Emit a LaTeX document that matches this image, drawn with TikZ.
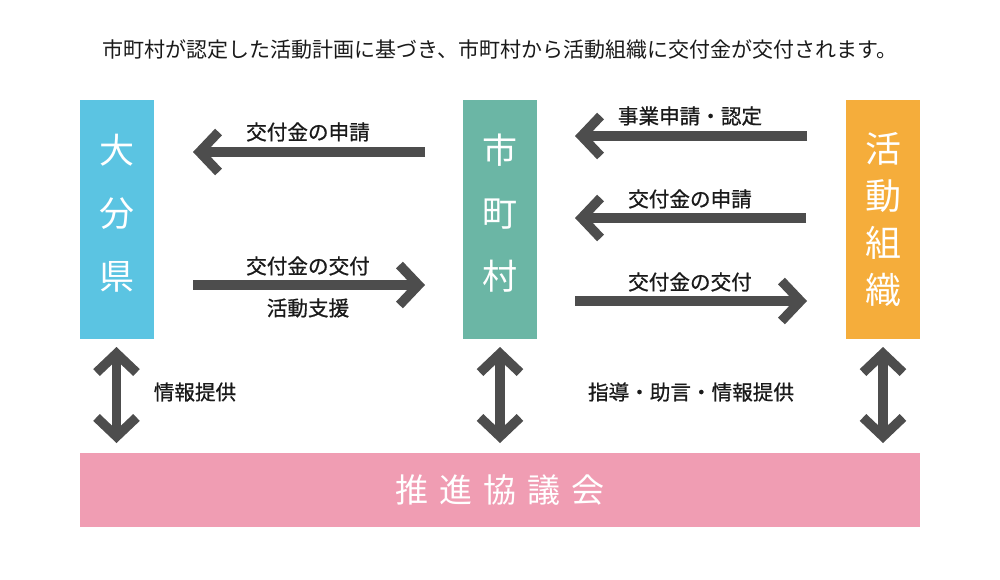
\documentclass[tikz,border=0pt]{standalone}
\usepackage{fontspec}
\newfontfamily\jp{Noto Sans CJK JP}
\newfontfamily\jpb[FakeBold=0.7]{Noto Sans CJK JP}
\usetikzlibrary{arrows.meta}
\definecolor{kencol}{HTML}{5BC4E2}
\definecolor{shicol}{HTML}{6BB6A5}
\definecolor{katcol}{HTML}{F5AD3B}
\definecolor{kyocol}{HTML}{F09DB3}
\definecolor{arrowgray}{HTML}{4D4D4D}
\definecolor{txt}{HTML}{1A1A1A}
\begin{document}
\begin{tikzpicture}[x=1pt,y=-1pt,
  box/.style={fill=#1, draw=none, inner sep=0pt, text=white, align=center},
  colbox/.style={box=#1, minimum width=74pt, minimum height=239pt},
  boxtxt/.style={text=white, align=center, inner sep=0pt},
  lbl/.style={text=txt, font=\jpb\fontsize{20.6}{24}\selectfont, inner sep=0pt},
  flow/.style={draw=arrowgray, line width=9.5pt, -{Straight Barb[length=19pt,width=40pt]}},
  both/.style={draw=arrowgray, line width=9.5pt, {Straight Barb[length=19pt,width=40pt]}-{Straight Barb[length=19pt,width=40pt]}}
]
\useasboundingbox (0,0) rectangle (1000,579);
\fill[white] (0,0) rectangle (1000,579);

\node[text=txt, inner sep=0pt, font=\jp\fontsize{21}{24}\selectfont] (title) at (500,50) {市町村が認定した活動計画に基づき、市町村から活動組織に交付金が交付されます。};

\node[colbox=kencol] (ken) at (116.5,219.5) {};
\node[colbox=shicol] (shi) at (500,219.5) {};
\node[colbox=katcol] (kat) at (883,219.5) {};
\node[boxtxt, font=\jp\fontsize{35}{63}\selectfont] (kentxt) at (116.5,213.5) {大\\分\\県};
\node[boxtxt, font=\jp\fontsize{35}{63}\selectfont] (shitxt) at (500,213.5) {市\\町\\村};
\node[boxtxt, font=\jp\fontsize{36}{47}\selectfont] (kattxt) at (883,219.5) {活\\動\\組\\織};
\node[box=kyocol, minimum width=840pt, minimum height=74pt, font=\jp\fontsize{33}{40}\selectfont] (kyo) at (500,490)
  {推\hspace{11pt}進\hspace{11pt}協\hspace{11pt}議\hspace{11pt}会};

% left arrows
\coordinate (l1s) at (425,152);
\coordinate (l1e) at (193,152);
\coordinate (l2s) at (193,285);
\coordinate (l2e) at (425,285);
\draw[flow] (l1s) -- (l1e);
\draw[flow] (l2s) -- (l2e);
\node[lbl] (t1) at (308,132) {交付金の申請};
\node[lbl] (t2) at (308,266) {交付金の交付};
\node[lbl] (t3) at (308,308) {活動支援};

% right arrows
\coordinate (r1s) at (807,136);
\coordinate (r1e) at (575,136);
\coordinate (r2s) at (806,218);
\coordinate (r2e) at (575,218);
\coordinate (r3s) at (575,301);
\coordinate (r3e) at (807,301);
\draw[flow] (r1s) -- (r1e);
\draw[flow] (r2s) -- (r2e);
\draw[flow] (r3s) -- (r3e);
\node[lbl] (t4) at (690,116) {事業申請・認定};
\node[lbl] (t5) at (690,199) {交付金の申請};
\node[lbl] (t6) at (690,282) {交付金の交付};

% vertical arrows
\draw[both] (ken.south |- 0,347) coordinate (v1a) -- (ken.south |- 0,443) coordinate (v1b);
\draw[both] (shi.south |- 0,347) coordinate (v2a) -- (shi.south |- 0,443) coordinate (v2b);
\draw[both] (kat.south |- 0,347) coordinate (v3a) -- (kat.south |- 0,443) coordinate (v3b);
\node[lbl] (t7) at (195,392) {情報提供};
\node[lbl] (t8) at (691,392) {指導・助言・情報提供};
\end{tikzpicture}
\end{document}
